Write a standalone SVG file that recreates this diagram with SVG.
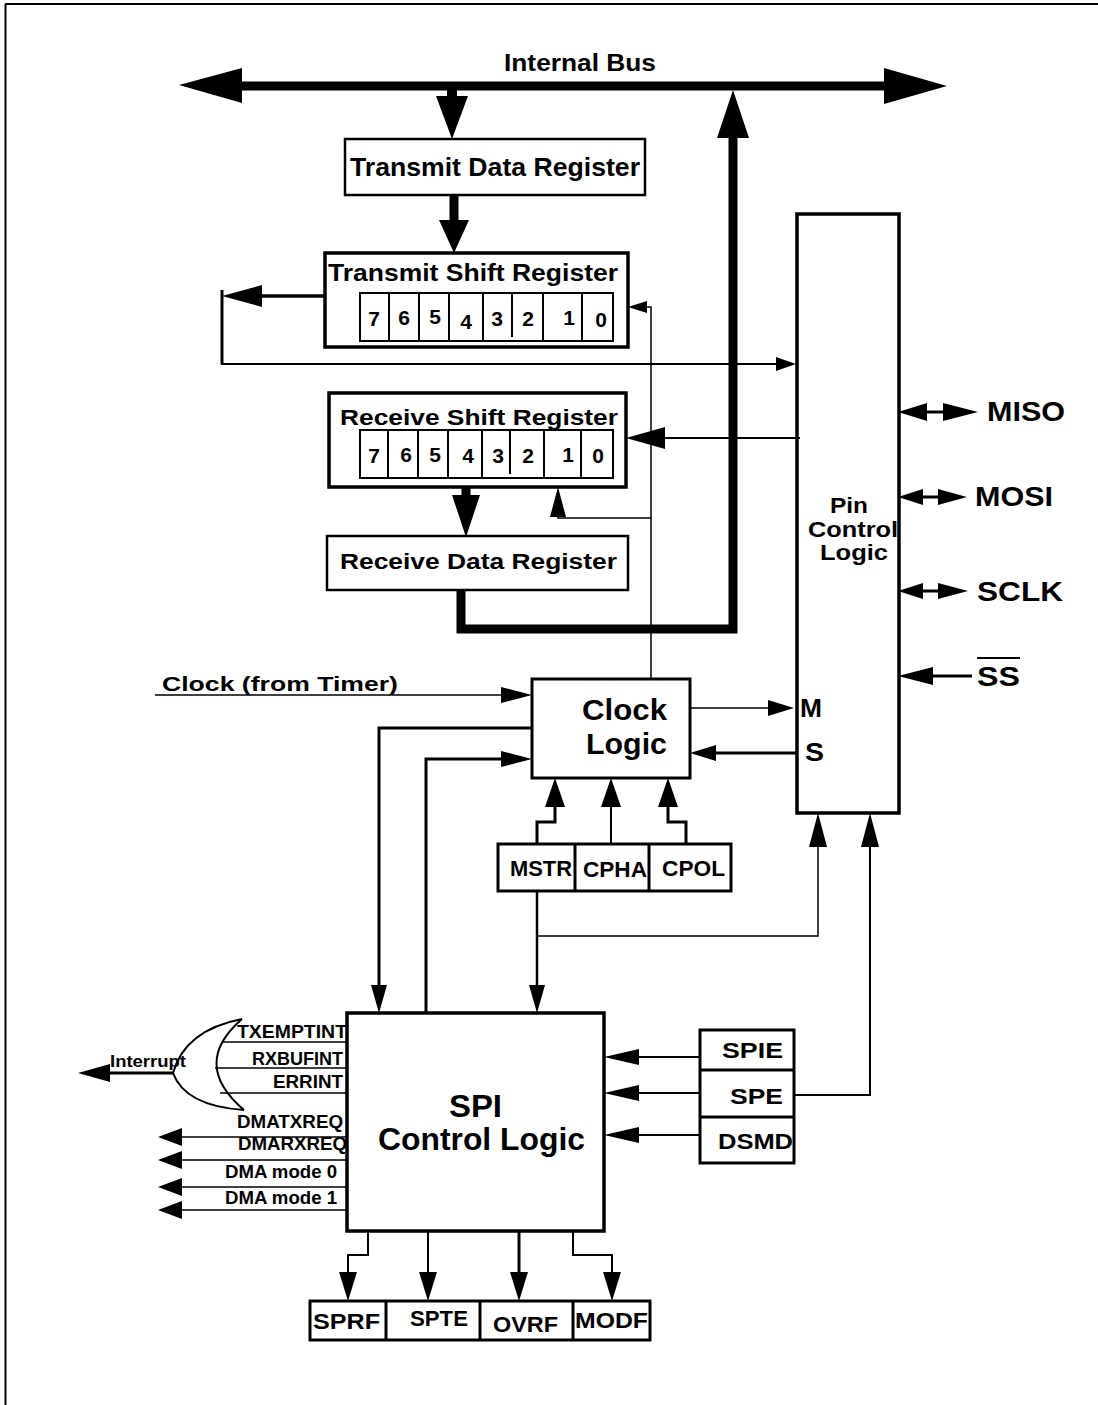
<svg xmlns="http://www.w3.org/2000/svg" width="1098" height="1405" viewBox="0 0 1098 1405">
<style>
.t{font-family:"Liberation Sans",Arial,Helvetica,sans-serif;font-weight:bold;fill:#000}
.box{fill:#fff;stroke:#000}
.ln{fill:none;stroke:#000;stroke-linejoin:miter;stroke-linecap:butt}
.ah{fill:#000;stroke:none}
</style>
<rect width="1098" height="1405" fill="#fff"/>
<!-- frame -->
<path class="ln" d="M5,4 H1098 M5.5,4 V1405" stroke-width="2"/>

<g id="internal-bus">
  <line class="ln" x1="240" y1="86" x2="886" y2="86" stroke-width="9"/>
  <polygon class="ah" points="179,85 242,68 242,103"/>
  <polygon class="ah" points="947,86 884,68 884,104"/>
  <text class="t" x="504" y="71" font-size="24" textLength="152" lengthAdjust="spacingAndGlyphs">Internal Bus</text>
</g>

<g id="transmit-data-register">
  <rect class="box" x="345" y="139" width="300" height="56" stroke-width="2.5"/>
  <text class="t" x="350" y="176" font-size="25" textLength="290" lengthAdjust="spacingAndGlyphs">Transmit Data Register</text>
</g>

<g id="transmit-shift-register">
  <rect class="box" x="325" y="253" width="303" height="94" stroke-width="3.5"/>
  <text class="t" x="328" y="281" font-size="23" textLength="290" lengthAdjust="spacingAndGlyphs">Transmit Shift Register</text>
  <rect class="box" x="360" y="293" width="253" height="48" stroke-width="2"/>
  <path class="ln" stroke-width="2" d="M389,293V341M419,293V341M449,293V341M483,293V341M512,293V337M543,293V341M582,293V341"/>
  <g class="t" font-size="21" text-anchor="middle">
    <text x="374" y="326">7</text><text x="404" y="325">6</text><text x="435" y="324">5</text><text x="466" y="329">4</text>
    <text x="497" y="326">3</text><text x="528" y="326">2</text><text x="569" y="325">1</text><text x="601" y="327">0</text>
  </g>
</g>

<g id="receive-shift-register">
  <rect class="box" x="329" y="393" width="297" height="94" stroke-width="3.5"/>
  <text class="t" x="340" y="425" font-size="22" textLength="278" lengthAdjust="spacingAndGlyphs">Receive Shift Register</text>
  <rect class="box" x="360" y="430" width="253" height="48" stroke-width="2"/>
  <path class="ln" stroke-width="2" d="M388,430V478M418,430V478M448,430V478M482,430V478M510,430V474M544,430V478M581,430V478"/>
  <g class="t" font-size="21" text-anchor="middle">
    <text x="374" y="463">7</text><text x="406" y="462">6</text><text x="435" y="462">5</text><text x="468" y="463">4</text>
    <text x="498" y="463">3</text><text x="528" y="463">2</text><text x="568" y="462">1</text><text x="598" y="463">0</text>
  </g>
</g>

<g id="receive-data-register">
  <rect class="box" x="327" y="536" width="301" height="54" stroke-width="2.5"/>
  <text class="t" x="340" y="569" font-size="22" textLength="277" lengthAdjust="spacingAndGlyphs">Receive Data Register</text>
</g>

<g id="pin-control-logic">
  <rect class="box" x="797" y="214" width="102" height="599" stroke-width="3.5"/>
  <text class="t" x="830" y="513" font-size="22" textLength="38" lengthAdjust="spacingAndGlyphs">Pin</text>
  <text class="t" x="808" y="537" font-size="22" textLength="90" lengthAdjust="spacingAndGlyphs">Control</text>
  <text class="t" x="820" y="560" font-size="22" textLength="68" lengthAdjust="spacingAndGlyphs">Logic</text>
  <text class="t" x="800" y="717" font-size="26" textLength="22" lengthAdjust="spacingAndGlyphs">M</text>
  <text class="t" x="805" y="761" font-size="26" textLength="19" lengthAdjust="spacingAndGlyphs">S</text>
</g>

<g id="pins">
  <text class="t" x="987" y="421" font-size="27" textLength="78" lengthAdjust="spacingAndGlyphs">MISO</text>
  <text class="t" x="975" y="506" font-size="27" textLength="78" lengthAdjust="spacingAndGlyphs">MOSI</text>
  <text class="t" x="977" y="601" font-size="27" textLength="86" lengthAdjust="spacingAndGlyphs">SCLK</text>
  <text class="t" x="977" y="686" font-size="27" textLength="43" lengthAdjust="spacingAndGlyphs">SS</text>
  <line class="ln" x1="977" y1="658" x2="1020" y2="658" stroke-width="2"/>
</g>

<g id="clock-logic">
  <rect class="box" x="532" y="679" width="158" height="99" stroke-width="3"/>
  <text class="t" x="582" y="720" font-size="29" textLength="85" lengthAdjust="spacingAndGlyphs">Clock</text>
  <text class="t" x="586" y="754" font-size="29" textLength="81" lengthAdjust="spacingAndGlyphs">Logic</text>
</g>

<g id="clock-from-timer">
  <text class="t" x="162" y="691" font-size="21" textLength="236" lengthAdjust="spacingAndGlyphs">Clock (from Timer)</text>
</g>

<g id="mstr-cpha-cpol">
  <rect class="box" x="498" y="844" width="233" height="47" stroke-width="3"/>
  <path class="ln" stroke-width="3" d="M575,844V891M649,844V891"/>
  <text class="t" x="510" y="876" font-size="22" textLength="62" lengthAdjust="spacingAndGlyphs">MSTR</text>
  <text class="t" x="583" y="877" font-size="22" textLength="64" lengthAdjust="spacingAndGlyphs">CPHA</text>
  <text class="t" x="662" y="876" font-size="22" textLength="63" lengthAdjust="spacingAndGlyphs">CPOL</text>
</g>

<g id="spi-control-logic">
  <rect class="box" x="347" y="1013" width="257" height="218" stroke-width="3.5"/>
  <text class="t" x="449" y="1117" font-size="31" textLength="53" lengthAdjust="spacingAndGlyphs">SPI</text>
  <text class="t" x="378" y="1150" font-size="31" textLength="207" lengthAdjust="spacingAndGlyphs">Control Logic</text>
</g>

<g id="spie-spe-dsmd">
  <rect class="box" x="700" y="1030" width="94" height="133" stroke-width="3"/>
  <path class="ln" stroke-width="3" d="M700,1070H794M700,1117H794"/>
  <text class="t" x="722" y="1058" font-size="22" textLength="61" lengthAdjust="spacingAndGlyphs">SPIE</text>
  <text class="t" x="730" y="1104" font-size="22" textLength="53" lengthAdjust="spacingAndGlyphs">SPE</text>
  <text class="t" x="718" y="1149" font-size="22" textLength="75" lengthAdjust="spacingAndGlyphs">DSMD</text>
</g>

<g id="status-flags">
  <rect class="box" x="310" y="1301" width="340" height="39" stroke-width="3"/>
  <path class="ln" stroke-width="3" d="M386,1301V1340M480,1301V1340M573,1301V1340"/>
  <text class="t" x="313" y="1329" font-size="22" textLength="67" lengthAdjust="spacingAndGlyphs">SPRF</text>
  <text class="t" x="410" y="1326" font-size="22" textLength="58" lengthAdjust="spacingAndGlyphs">SPTE</text>
  <text class="t" x="493" y="1332" font-size="22" textLength="65" lengthAdjust="spacingAndGlyphs">OVRF</text>
  <text class="t" x="575" y="1328" font-size="22" textLength="73" lengthAdjust="spacingAndGlyphs">MODF</text>
</g>

<g id="or-gate">
  <path class="ln" stroke-width="2" d="M242,1019 Q185,1030 173,1073 Q185,1106 244,1110"/>
  <path class="ln" stroke-width="2" d="M242,1019 Q190,1064 244,1110"/>
  <text class="t" x="110" y="1067" font-size="17" textLength="76" lengthAdjust="spacingAndGlyphs">Interrupt</text>
</g>

<g id="interrupt-signal-labels">
  <text class="t" x="237" y="1038" font-size="18" textLength="110" lengthAdjust="spacingAndGlyphs">TXEMPTINT</text>
  <text class="t" x="252" y="1065" font-size="18" textLength="91" lengthAdjust="spacingAndGlyphs">RXBUFINT</text>
  <text class="t" x="273" y="1088" font-size="18" textLength="70" lengthAdjust="spacingAndGlyphs">ERRINT</text>
  <text class="t" x="237" y="1128" font-size="18" textLength="106" lengthAdjust="spacingAndGlyphs">DMATXREQ</text>
  <text class="t" x="238" y="1150" font-size="18" textLength="109" lengthAdjust="spacingAndGlyphs">DMARXREQ</text>
  <text class="t" x="225" y="1178" font-size="18" textLength="112" lengthAdjust="spacingAndGlyphs">DMA mode 0</text>
  <text class="t" x="225" y="1204" font-size="18" textLength="112" lengthAdjust="spacingAndGlyphs">DMA mode 1</text>
</g>

<g id="connectors">
  <!-- bus to TDR -->
  <line class="ln" x1="452" y1="86" x2="452" y2="97" stroke-width="10"/>
  <polygon class="ah" points="436,96 468,96 452,139"/>
  <!-- TDR to TSR -->
  <line class="ln" x1="454" y1="195" x2="454" y2="221" stroke-width="9"/>
  <polygon class="ah" points="439,220 469,220 454,253"/>
  <!-- RDR to bus -->
  <polyline class="ln" points="461,590 461,629 733,629 733,136" stroke-width="9"/>
  <polygon class="ah" points="717,138 749,138 733,90"/>
  <!-- TSR serial out -->
  <line class="ln" x1="325" y1="296" x2="260" y2="296" stroke-width="3.5"/>
  <polygon class="ah" points="222,296 262,285 262,307"/>
  <polyline class="ln" points="222,290 222,364 778,364" stroke-width="2"/>
  <line class="ln" x1="222" y1="290" x2="222" y2="364" stroke-width="3"/>
  <polygon class="ah" points="796,364 776,357 776,371"/>
  <!-- clock to shift registers -->
  <polyline class="ln" points="651,679 651,307 645,307" stroke-width="1.5"/>
  <polygon class="ah" points="628,307 647,301 647,313"/>
  <polyline class="ln" points="651,518 558,518 558,515" stroke-width="1.5"/>
  <polygon class="ah" points="558,487 550,517 566,517"/>
  <!-- pin to RSR -->
  <line class="ln" x1="800" y1="438" x2="663" y2="438" stroke-width="2"/>
  <polygon class="ah" points="626,438 665,427 665,449"/>
  <!-- RSR to RDR -->
  <line class="ln" x1="466" y1="487" x2="466" y2="497" stroke-width="9"/>
  <polygon class="ah" points="452,495 480,495 466,537"/>
  <!-- pins -->
  <line class="ln" x1="925" y1="412" x2="945" y2="412" stroke-width="3"/>
  <polygon class="ah" points="898,412 927,403 927,421"/>
  <polygon class="ah" points="978,412 943,403 943,421"/>
  <line class="ln" x1="921" y1="497" x2="940" y2="497" stroke-width="3"/>
  <polygon class="ah" points="898,497 923,489 923,505"/>
  <polygon class="ah" points="967,497 938,489 938,505"/>
  <line class="ln" x1="921" y1="591" x2="940" y2="591" stroke-width="3"/>
  <polygon class="ah" points="898,591 923,583 923,599"/>
  <polygon class="ah" points="968,591 938,583 938,599"/>
  <line class="ln" x1="931" y1="676" x2="972" y2="676" stroke-width="3"/>
  <polygon class="ah" points="898,676 933,667 933,685"/>
  <!-- clock from timer -->
  <line class="ln" x1="155" y1="695" x2="503" y2="695" stroke-width="1.5"/>
  <polygon class="ah" points="532,695 501,687 501,703"/>
  <!-- clock logic <-> SPI control -->
  <polyline class="ln" points="532,728 379,728 379,987" stroke-width="3"/>
  <polygon class="ah" points="379,1013 371,985 387,985"/>
  <polyline class="ln" points="426,1013 426,759 503,759" stroke-width="3"/>
  <polygon class="ah" points="532,759 501,751 501,767"/>
  <!-- M / S -->
  <line class="ln" x1="690" y1="708" x2="770" y2="708" stroke-width="1.5"/>
  <polygon class="ah" points="794,708 768,700 768,716"/>
  <line class="ln" x1="797" y1="753" x2="714" y2="753" stroke-width="3"/>
  <polygon class="ah" points="690,753 716,745 716,761"/>
  <!-- MSTR/CPHA/CPOL to clock logic -->
  <polyline class="ln" points="537,844 537,822 555,822 555,805" stroke-width="3"/>
  <polygon class="ah" points="555,778 545,807 565,807"/>
  <line class="ln" x1="611" y1="844" x2="611" y2="805" stroke-width="2"/>
  <polygon class="ah" points="611,778 601,807 621,807"/>
  <polyline class="ln" points="686,844 686,822 668,822 668,805" stroke-width="3"/>
  <polygon class="ah" points="668,778 658,807 678,807"/>
  <!-- MSTR down -->
  <line class="ln" x1="537" y1="891" x2="537" y2="987" stroke-width="2.5"/>
  <polygon class="ah" points="537,1013 529,985 545,985"/>
  <polyline class="ln" points="537,936 818,936 818,845" stroke-width="1.5"/>
  <polygon class="ah" points="818,813 809,847 827,847"/>
  <!-- SPIE/SPE/DSMD -->
  <line class="ln" x1="700" y1="1057" x2="637" y2="1057" stroke-width="2"/>
  <polygon class="ah" points="604,1057 639,1049 639,1065"/>
  <line class="ln" x1="700" y1="1093" x2="637" y2="1093" stroke-width="2"/>
  <polygon class="ah" points="604,1093 639,1085 639,1101"/>
  <line class="ln" x1="700" y1="1135" x2="637" y2="1135" stroke-width="2"/>
  <polygon class="ah" points="604,1135 639,1127 639,1143"/>
  <polyline class="ln" points="794,1095 870,1095 870,845" stroke-width="2"/>
  <polygon class="ah" points="870,813 861,847 879,847"/>
  <!-- interrupt -->
  <path class="ln" stroke-width="1.5" d="M223,1042H347M215,1068H347M220,1093H347"/>
  <line class="ln" x1="173" y1="1073" x2="108" y2="1073" stroke-width="3"/>
  <polygon class="ah" points="78,1073 110,1064 110,1082"/>
  <!-- DMA outputs -->
  <path class="ln" stroke-width="1.5" d="M347,1137H180M347,1160H180M347,1187H180M347,1210H180"/>
  <polygon class="ah" points="158,1137 182,1128 182,1146"/>
  <polygon class="ah" points="158,1160 182,1151 182,1169"/>
  <polygon class="ah" points="158,1187 182,1178 182,1196"/>
  <polygon class="ah" points="158,1210 182,1201 182,1219"/>
  <!-- flags -->
  <polyline class="ln" points="368,1232 368,1255 348,1255 348,1274" stroke-width="2"/>
  <polygon class="ah" points="348,1301 339,1272 357,1272"/>
  <line class="ln" x1="428" y1="1232" x2="428" y2="1274" stroke-width="2"/>
  <polygon class="ah" points="428,1301 419,1272 437,1272"/>
  <line class="ln" x1="519" y1="1232" x2="519" y2="1274" stroke-width="3"/>
  <polygon class="ah" points="519,1301 510,1272 528,1272"/>
  <polyline class="ln" points="573,1232 573,1255 612,1255 612,1274" stroke-width="2"/>
  <polygon class="ah" points="612,1301 603,1272 621,1272"/>
</g>
</svg>
